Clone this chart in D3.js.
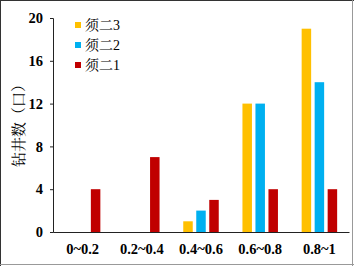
<!DOCTYPE html>
<html>
<head>
<meta charset="utf-8">
<script src="https://cdn.jsdelivr.net/npm/d3@7"></script>
<style>
  body { margin: 0; background: #fff; }
  svg text { font-family: "Liberation Serif", "Times New Roman", "Noto Serif CJK SC", "Noto Sans CJK SC", serif; }
</style>
</head>
<body>
<div id="chart"></div>
<script>
// data
var categories = ["0~0.2", "0.2~0.4", "0.4~0.6", "0.6~0.8", "0.8~1"];
var seriesNames = ["须二3", "须二2", "须二1"];
var xu3 = [0, 0, 1, 12, 19];
var xu2 = [0, 0, 2, 12, 14];
var xu1 = [4, 7, 3, 4, 4];
var yTicks = [0, 4, 8, 12, 16, 20];
var colors = ["#FFC000", "#00B0F0", "#C00000"];

var seriesValues = [xu3, xu2, xu1];

var W = 354, H = 266;
var margin = {top: 18, right: 5, bottom: 34, left: 53};

var svg = d3.select("#chart")
  .append("svg")
    .attr("width", W)
    .attr("height", H);

// frame round the picture
svg.append("line").attr("x1", 0).attr("x2", W).attr("y1", 0.5).attr("y2", 0.5).attr("stroke", "#333");
svg.append("line").attr("x1", 0.5).attr("x2", 0.5).attr("y1", 0).attr("y2", H).attr("stroke", "#333");
svg.append("line").attr("x1", W - 1.5).attr("x2", W - 1.5).attr("y1", 0).attr("y2", H).attr("stroke", "#999");
svg.append("line").attr("x1", 0).attr("x2", W).attr("y1", H - 1.5).attr("y2", H - 1.5).attr("stroke", "#999");

var x = d3.scaleBand()
  .domain(categories)
  .range([margin.left, W - margin.right])
  .padding(0);

var xs = d3.scaleBand()
  .domain(seriesNames)
  .range([-17.75, 17.75])
  .paddingInner(0.27);

var y = d3.scaleLinear()
  .domain([0, 20])
  .range([H - margin.bottom, margin.top]);

// bars
seriesNames.forEach(function(name, si) {
  svg.append("g")
    .selectAll("rect")
    .data(seriesValues[si])
    .enter()
    .append("rect")
      .attr("x", function(d, i) { return x(categories[i]) + x.bandwidth() / 2 + xs(name); })
      .attr("y", function(d) { return y(d); })
      .attr("width", xs.bandwidth())
      .attr("height", function(d) { return y(0) - y(d); })
      .attr("fill", colors[si]);
});

// Y axis
var yAxis = svg.append("g")
  .attr("transform", "translate(" + margin.left + ",0)")
  .call(d3.axisLeft(y).tickValues(yTicks).tickSize(3).tickPadding(7));
yAxis.select(".domain").attr("stroke", "#222");
yAxis.selectAll(".tick line").attr("stroke", "#222");
yAxis.selectAll("text")
  .attr("font-size", "14.5px")
  .attr("font-weight", "bold")
  .attr("fill", "#000");

// X axis
var xAxis = svg.append("g")
  .attr("transform", "translate(0," + y(0) + ")")
  .call(d3.axisBottom(x).tickSize(0).tickPadding(12).tickSizeOuter(0));
xAxis.select(".domain").attr("stroke", "#222");
xAxis.selectAll("text")
  .attr("font-size", "14.5px")
  .attr("font-weight", "bold")
  .attr("fill", "#000");

// Y title
svg.append("text")
  .attr("transform", "translate(24,122) rotate(-90)")
  .attr("text-anchor", "middle")
  .attr("font-size", "15px")
  .attr("fill", "#000")
  .text("钻井数（口）");

// legend
var legend = svg.append("g").attr("transform", "translate(75,22)");
seriesNames.forEach(function(name, i) {
  var g = legend.append("g").attr("transform", "translate(0," + (i * 20) + ")");
  g.append("rect")
    .attr("width", 6)
    .attr("height", 6)
    .attr("fill", colors[i]);
  g.append("text")
    .attr("x", 10)
    .attr("y", 8)
    .attr("font-size", "14px")
    .attr("fill", "#000")
    .text(name);
});
</script>
</body>
</html>
